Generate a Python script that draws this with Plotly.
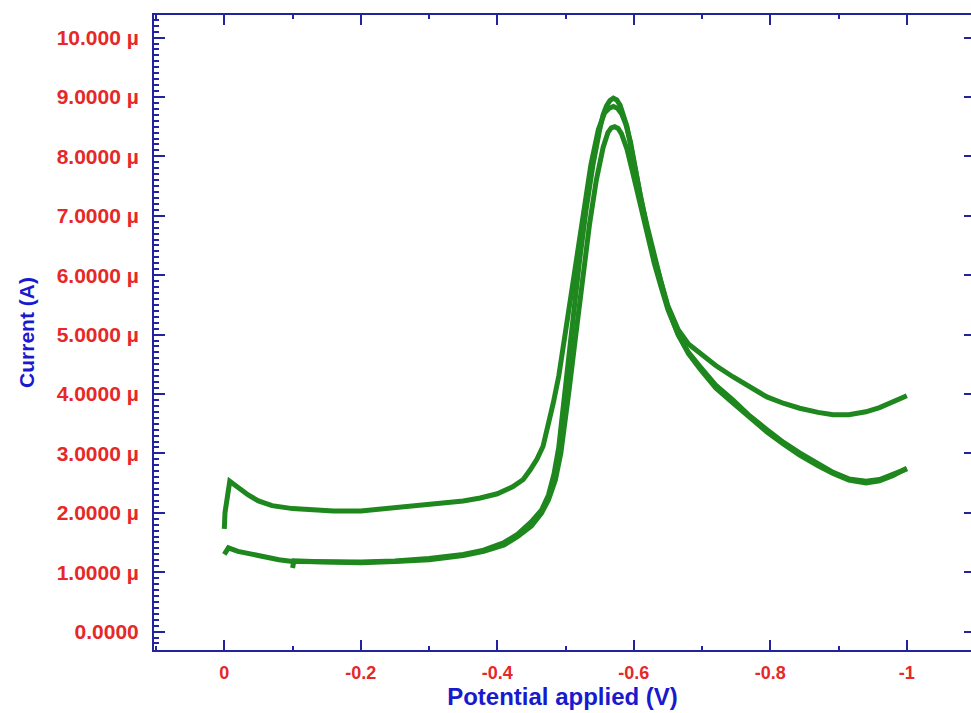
import plotly.graph_objects as go

# ---- data (potential in V, current in µA) ----
scan1_v = [0.0, -0.001, -0.008, -0.02, -0.035, -0.05, -0.07, -0.1, -0.13, -0.16, -0.2, -0.25, -0.3,
           -0.35, -0.375, -0.4, -0.423, -0.438, -0.448, -0.458, -0.467, -0.474, -0.482, -0.49,
           -0.498, -0.507, -0.517, -0.527, -0.537, -0.548, -0.557, -0.564, -0.57, -0.576, -0.582,
           -0.588, -0.595, -0.603, -0.61, -0.62, -0.63, -0.64, -0.65, -0.665, -0.68, -0.697, -0.72,
           -0.745, -0.77, -0.795, -0.82, -0.843, -0.87, -0.892, -0.915, -0.94, -0.96, -0.98, -1.0]
scan1_i = [1.73, 2.0, 2.53, 2.42, 2.3, 2.2, 2.12, 2.07, 2.04, 2.03, 2.03, 2.08, 2.14,
           2.2, 2.25, 2.32, 2.44, 2.56, 2.72, 2.9, 3.12, 3.45, 3.85, 4.3,
           4.9, 5.65, 6.45, 7.2, 7.85, 8.45, 8.73, 8.81, 8.84, 8.81, 8.72,
           8.55, 8.25, 7.75, 7.3, 6.8, 6.32, 5.88, 5.48, 5.08, 4.84, 4.69, 4.48,
           4.29, 4.11, 3.95, 3.84, 3.76, 3.69, 3.65, 3.65, 3.70, 3.77, 3.86, 3.97]

scan2_v = [0.0, -0.006, -0.02, -0.05, -0.08, -0.1, -0.15, -0.2, -0.25, -0.3, -0.35, -0.38, -0.41,
           -0.43, -0.45, -0.465, -0.475, -0.483, -0.49, -0.495, -0.5, -0.51, -0.52, -0.53,
           -0.54, -0.55, -0.555, -0.56, -0.565, -0.57, -0.575, -0.58, -0.585, -0.59, -0.6,
           -0.61, -0.62, -0.63, -0.64, -0.65, -0.665, -0.68, -0.697, -0.72, -0.745, -0.77,
           -0.795, -0.82, -0.843, -0.87, -0.892, -0.915, -0.94, -0.96, -0.98, -1.0]
scan2_i = [1.3, 1.41, 1.35, 1.27, 1.21, 1.18, 1.17, 1.17, 1.19, 1.23, 1.3, 1.37, 1.5,
           1.64, 1.85, 2.05, 2.3, 2.65, 3.1, 3.65, 4.2, 5.2, 6.2, 7.1,
           7.85, 8.45, 8.7, 8.85, 8.94, 8.98, 8.95, 8.86, 8.7, 8.5, 7.9,
           7.3, 6.75, 6.3, 5.85, 5.45, 5.0, 4.7, 4.46, 4.15, 3.90, 3.63,
           3.40, 3.18, 3.01, 2.82, 2.68, 2.57, 2.53, 2.56, 2.64, 2.74]

scan3_v = [-0.1, -0.102, -0.15, -0.2, -0.25, -0.3, -0.35, -0.38, -0.41, -0.43, -0.45, -0.465,
           -0.475, -0.485, -0.493, -0.5, -0.505, -0.515, -0.525, -0.535, -0.545, -0.555, -0.562,
           -0.567, -0.572, -0.577, -0.582, -0.59, -0.6, -0.61, -0.62, -0.63, -0.64, -0.65, -0.665,
           -0.68, -0.697, -0.72, -0.745, -0.77, -0.795, -0.82, -0.843, -0.87, -0.892, -0.915,
           -0.94, -0.96, -0.98, -1.0]
scan3_i = [1.07, 1.19, 1.17, 1.16, 1.18, 1.21, 1.28, 1.35, 1.46, 1.6, 1.78, 2.0,
           2.22, 2.55, 3.0, 3.55, 4.05, 5.0, 5.95, 6.85, 7.6, 8.15, 8.4,
           8.48, 8.5, 8.47, 8.38, 8.12, 7.65, 7.15, 6.65, 6.2, 5.8, 5.42, 5.0,
           4.68, 4.42, 4.1, 3.85, 3.6, 3.36, 3.15, 2.97, 2.79, 2.66, 2.55,
           2.5, 2.54, 2.63, 2.75]

x_tickvals = [0, -0.2, -0.4, -0.6, -0.8, -1.0]
x_ticktext = ["0", "-0.2", "-0.4", "-0.6", "-0.8", "-1"]
y_tickvals = [0, 1, 2, 3, 4, 5, 6, 7, 8, 9, 10]
y_ticktext = ["0.0000", "1.0000 µ", "2.0000 µ", "3.0000 µ", "4.0000 µ", "5.0000 µ",
              "6.0000 µ", "7.0000 µ", "8.0000 µ", "9.0000 µ", "10.000 µ"]

GREEN = "rgb(30,135,30)"
AXIS = "rgb(35,35,160)"
RED = "rgb(230,40,40)"
BLUE = "rgb(25,25,205)"

x_range = [0.103, -1.094]
y_range = [-0.31, 10.38]

fig = go.Figure()
for v, i in [(scan1_v, scan1_i), (scan2_v, scan2_i), (scan3_v, scan3_i)]:
    fig.add_trace(go.Scatter(x=v, y=i, mode="lines",
                             line=dict(color=GREEN, width=5), showlegend=False))
fig.add_trace(go.Scatter(x=[None], y=[None], xaxis="x2", yaxis="y2",
                         mode="lines", showlegend=False, hoverinfo="skip"))

fig.update_layout(
    width=971, height=713,
    margin=dict(l=154, r=0, t=15, b=63),
    paper_bgcolor="white", plot_bgcolor="white",
    xaxis=dict(
        range=x_range, tickmode="array", tickvals=x_tickvals, ticktext=x_ticktext,
        ticks="inside", ticklen=10, tickwidth=2, tickcolor=AXIS, automargin=False,
        minor=dict(tickmode="linear", tick0=0, dtick=0.1, ticks="inside",
                   ticklen=4, tickwidth=2, tickcolor=AXIS),
        showline=True, linecolor=AXIS, linewidth=2, showgrid=False, zeroline=False,
        tickfont=dict(family="Liberation Sans, Arial", size=18, color=RED, weight="bold"),
        ticklabelstandoff=5,
        title=dict(text="Potential applied (V)", standoff=7,
                   font=dict(family="Liberation Sans, Arial", size=24, color=BLUE, weight="bold")),
    ),
    yaxis=dict(
        range=y_range, tickmode="array", tickvals=y_tickvals, ticktext=y_ticktext,
        ticks="inside", ticklen=11, tickwidth=2, tickcolor=AXIS, automargin=False,
        minor=dict(tickmode="linear", tick0=0, dtick=0.1, ticks="inside",
                   ticklen=5, tickwidth=2, tickcolor=AXIS),
        showline=True, linecolor=AXIS, linewidth=2, showgrid=False, zeroline=False,
        tickfont=dict(family="Liberation Sans, Arial", size=21, color=RED, weight="bold"),
        ticklabelstandoff=9,
        title=dict(text="Current (A)", standoff=16,
                   font=dict(family="Liberation Sans Narrow, Arial Narrow, Liberation Sans",
                             size=21, color=BLUE, weight="bold")),
    ),
    xaxis2=dict(
        overlaying="x", side="top", range=x_range, tickmode="array", tickvals=x_tickvals,
        showticklabels=False, ticks="inside", ticklen=10, tickwidth=2, tickcolor=AXIS,
        minor=dict(tickmode="linear", tick0=0, dtick=0.1, ticks="inside",
                   ticklen=4, tickwidth=2, tickcolor=AXIS),
        showline=True, linecolor=AXIS, linewidth=2, showgrid=False, zeroline=False,
    ),
    yaxis2=dict(
        overlaying="y", side="right", range=y_range, tickmode="array", tickvals=y_tickvals,
        showticklabels=False, ticks="inside", ticklen=7, tickwidth=2, tickcolor=AXIS,
        showline=True, linecolor=AXIS, linewidth=2, showgrid=False, zeroline=False,
    ),
)

fig.write_html("out.html", config={"displayModeBar": False},
               post_script="document.body.style.margin='0';document.body.style.overflow='hidden';")
